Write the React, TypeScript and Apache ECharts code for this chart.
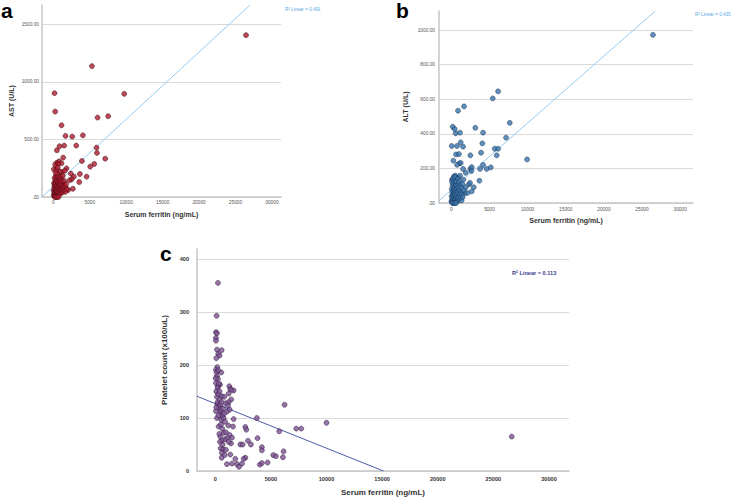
import React, { useEffect, useRef } from 'react';
import * as echarts from 'echarts';

// ---- data ----
const xTicks = [0, 5000, 10000, 15000, 20000, 25000, 30000];
const panelLetters = ['a', 'b', 'c'];
const r2Labels = ['R\u00b2 Linear = 0.491', 'R\u00b2 Linear = 0.435', 'R\u00b2 Linear = 0.113'];
const xTitle = 'Serum ferritin (ng/mL)';
const yTitles = ['AST (U/L)', 'ALT (U/L)', 'Platelet count (x100/uL)'];

const astData: number[][] = [
  [26450, 1406], [5290, 1137], [9730, 896], [160, 902], [250, 742], [1120, 623], [6070, 690], [7530, 702],
  [1670, 531], [2590, 525], [4050, 536], [3140, 447], [1490, 447], [850, 441], [480, 406], [5930, 429], [5980, 383],
  [1350, 342], [7120, 333], [760, 310], [440, 296], [250, 281], [1120, 293], [660, 287], [3920, 313], [5610, 287], [5060, 264],
  [70, 241], [1810, 249], [1210, 217], [1580, 229], [2400, 203], [3640, 200], [4560, 177], [2820, 177], [2500, 154],
  [2220, 145], [3550, 130], [2040, 61], [2680, 72], [940, 220], [990, 177], [660, 142], [1350, 119],
  [30, 60], [60, 15], [90, 120], [110, 35], [130, 90], [150, 5], [170, 165], [190, 50], [210, 110], [230, 25],
  [250, 75], [270, 140], [290, 10], [310, 95], [330, 55], [350, 180], [370, 30], [390, 125], [410, 70], [430, 15],
  [450, 150], [470, 45], [500, 100], [520, 200], [540, 60], [570, 20], [600, 130], [620, 85], [650, 40], [680, 170],
  [710, 110], [740, 65], [770, 25], [800, 145], [830, 95], [860, 50], [900, 120], [940, 75], [980, 30], [1020, 160],
  [1060, 100], [1100, 55], [1150, 135], [1200, 80], [1250, 40], [1300, 185], [1350, 95], [1420, 60], [1500, 140],
  [1580, 90], [1650, 45], [1750, 110], [1850, 70], [350, 0], [200, 0], [500, 0], [700, 0], [420, 240], [600, 255], [300, 210],
];

const altData: number[][] = [
  [26430, 973], [6130, 646], [5430, 605], [1670, 559], [880, 534], [7660, 464], [180, 441], [440, 428], [3150, 435],
  [570, 403], [1140, 407], [4160, 407], [7180, 378], [1230, 351], [4070, 345], [50, 330], [750, 330], [1540, 326],
  [5690, 314], [6130, 314], [620, 281], [1010, 283], [2500, 276], [5950, 276], [3900, 291], [270, 245], [1050, 229],
  [1230, 232], [750, 221], [4160, 220], [9930, 252], [2500, 197], [2670, 208], [3770, 197], [4640, 197], [5170, 206],
  [1540, 197], [1890, 175], [2630, 185], [3680, 129], [90, 135], [350, 154], [530, 158], [880, 146], [1140, 158],
  [1580, 135], [2320, 108], [2450, 116], [1890, 91], [2940, 91], [2670, 67], [2100, 58], [1710, 58],
  [20, 10], [40, 40], [60, 80], [80, 5], [100, 120], [120, 25], [140, 60], [160, 100], [180, 15], [200, 45],
  [220, 140], [240, 70], [260, 0], [280, 30], [300, 110], [320, 55], [340, 85], [360, 10], [380, 130], [400, 40],
  [420, 65], [440, 95], [460, 20], [480, 150], [500, 50], [520, 75], [550, 5], [580, 105], [600, 35], [620, 60],
  [650, 125], [680, 20], [700, 80], [730, 45], [760, 100], [790, 10], [820, 65], [850, 140], [880, 30], [910, 90],
  [950, 55], [990, 120], [1030, 20], [1070, 75], [1110, 45], [1150, 105], [1200, 30], [1250, 60], [1300, 90],
  [1350, 15], [1400, 50], [1450, 110], [1500, 35], [1600, 75], [300, 0], [150, 0], [450, 0], [650, 0],
];

const pltData: number[][] = [
  [26650, 65], [240, 355], [120, 293], [60, 262], [150, 260], [60, 251], [60, 246], [150, 229], [570, 228], [270, 221],
  [390, 218], [90, 213], [180, 196], [60, 191], [120, 186], [540, 186], [150, 179], [240, 174], [60, 166], [420, 163],
  [240, 160], [1260, 160], [1350, 155], [1650, 152], [1440, 153], [210, 157], [600, 141], [810, 140], [1200, 146],
  [1440, 135], [1200, 130], [960, 128], [1140, 124], [180, 126], [6230, 125], [60, 113], [450, 110], [1050, 112],
  [1290, 116], [1650, 98], [3740, 100], [540, 97], [300, 84], [1170, 86], [1590, 84], [2700, 83], [2790, 78], [630, 80],
  [750, 72], [960, 73], [1290, 68], [5750, 75], [7280, 80], [7730, 80], [10000, 91], [3800, 62], [1500, 63], [450, 65],
  [600, 57], [2940, 57], [3200, 50], [2250, 50], [2460, 50], [480, 43], [690, 41], [600, 34], [570, 25], [960, 40],
  [1410, 52], [1350, 31], [4190, 45], [4190, 39], [5210, 30], [5450, 28], [6140, 37], [6080, 26], [2700, 25], [2550, 23],
  [1800, 23], [1050, 13], [1500, 14], [1950, 13], [2130, 8], [2400, 14], [4010, 12], [4190, 15], [4700, 16],
  [30, 175], [90, 150], [150, 140], [210, 130], [270, 145], [330, 120], [390, 135], [450, 125], [510, 115], [570, 130],
  [630, 105], [690, 118], [750, 100], [330, 165], [270, 190], [390, 150], [150, 100], [90, 120], [510, 88], [870, 93],
  [780, 108], [900, 60], [360, 70], [420, 55], [660, 50], [1080, 62], [1200, 55], [300, 105], [840, 30],
];

// fit-line end points
const astFit: number[][] = [[-1560, 0], [27000, 1668]];
const altFit: number[][] = [[-1614, 13], [26730, 1111]];
const pltFit: number[][] = [[-1644, 141], [15120, 0]];

const FONT = 'Liberation Sans, Arial, Helvetica, sans-serif';

export default function App() {
  const ref = useRef<HTMLDivElement>(null);
  useEffect(() => {
    if (!ref.current) return;
    const chart = echarts.init(ref.current, undefined, { renderer: 'svg' });

    const grids = [
      { left: 42, top: 5, width: 239, height: 192 },
      { left: 439, top: 11, width: 254, height: 192 },
      { left: 197, top: 249, width: 372, height: 222 },
    ];
    const xRanges = [[-1560, 31250], [-1614, 31680], [-1644, 31800]];
    const yRanges = [[0, 1668, 500], [0, 1111, 200], [0, 419, 100]];
    const xNameGaps = [13.5, 14, 17];
    const yNameGaps = [27.5, 30.5, 20];
    const xLabelMargins = [2.5, 4, 5];
    const yLabelMargins = [3, 4, 8];
    const tickFont = [4.8, 4.8, 5.6];
    const nameFont = [7, 7, 8];

    const makeAxisLine = () => ({ show: true, onZero: false, lineStyle: { color: '#c6c6c6', width: 1.5 } });

    const xAxis = grids.map((_, i) => ({
      type: 'value',
      gridIndex: i,
      min: xRanges[i][0],
      max: xRanges[i][1],
      axisLine: makeAxisLine(),
      axisTick: { show: false },
      splitLine: { show: false },
      axisLabel: {
        customValues: xTicks,
        fontSize: tickFont[i],
        color: i === 2 ? '#333' : '#555',
        fontWeight: i === 2 ? 'bold' : 'normal',
        fontFamily: FONT,
        margin: xLabelMargins[i],
        formatter: (v: number) => String(v),
      },
      name: xTitle,
      nameLocation: 'middle',
      nameGap: xNameGaps[i],
      nameTextStyle: { fontWeight: 'bold', fontSize: nameFont[i], color: '#333', fontFamily: FONT },
    }));

    const yAxis = grids.map((_, i) => ({
      type: 'value',
      gridIndex: i,
      min: yRanges[i][0],
      max: yRanges[i][1],
      interval: yRanges[i][2],
      axisLine: makeAxisLine(),
      axisTick: { show: false },
      splitLine: { show: true, showMaxLine: false, lineStyle: { color: '#dadada', width: 1 } },
      axisLabel: {
        showMaxLabel: false,
        fontSize: tickFont[i],
        color: i === 2 ? '#333' : '#555',
        fontWeight: i === 2 ? 'bold' : 'normal',
        fontFamily: FONT,
        margin: yLabelMargins[i],
        formatter: (v: number) => (i === 2 ? String(v) : v === 0 ? '.00' : v.toFixed(2)),
      },
      name: yTitles[i],
      nameLocation: 'middle',
      nameGap: yNameGaps[i],
      nameTextStyle: { fontWeight: 'bold', fontSize: nameFont[i], color: '#333', fontFamily: FONT },
    }));

    const pointStyles = [
      { color: '#ad1a2d', borderColor: '#3b0a12', borderWidth: 0.6 },
      { color: '#3873ad', borderColor: '#17324f', borderWidth: 0.6 },
      { color: '#7d5192', borderColor: '#2b1836', borderWidth: 0.6 },
    ];
    const fitColors = ['#8cc5ee', '#8cc5ee', '#4a5cab'];
    const datas = [astData, altData, pltData];
    const fits = [astFit, altFit, pltFit];

    const series: any[] = [];
    for (let i = 0; i < 3; i++) {
      series.push({
        type: 'line',
        xAxisIndex: i,
        yAxisIndex: i,
        data: fits[i],
        showSymbol: false,
        symbol: 'none',
        clip: true,
        lineStyle: { color: fitColors[i], width: i === 2 ? 1 : 0.9 },
        z: 1,
      });
      series.push({
        type: 'scatter',
        xAxisIndex: i,
        yAxisIndex: i,
        data: datas[i],
        symbolSize: 5,
        itemStyle: pointStyles[i],
        z: 2,
      });
    }

    const letterPos = [[1, 0], [396, 0], [160, 243]];
    const r2Pos = [[285, 7], [695, 12], [512, 269.5]];
    const graphic: any[] = [];
    for (let i = 0; i < 3; i++) {
      graphic.push({
        type: 'text',
        left: letterPos[i][0],
        top: letterPos[i][1],
        style: { text: panelLetters[i], font: `bold 21px ${FONT}`, fill: '#000' },
      });
      graphic.push({
        type: 'text',
        left: r2Pos[i][0],
        top: r2Pos[i][1],
        style: {
          text: r2Labels[i],
          font: i === 2 ? `bold 5.6px ${FONT}` : `4.6px ${FONT}`,
          fill: i === 2 ? '#3a3f8f' : '#5aa9e6',
        },
      });
    }

    chart.setOption({
      animation: false,
      backgroundColor: '#ffffff',
      grid: grids,
      xAxis,
      yAxis,
      series,
      graphic,
    } as any);

    return () => chart.dispose();
  }, []);

  return (
    <div
      ref={ref}
      style={{ position: 'absolute', left: 0, top: 0, width: 740, height: 498 }}
    />
  );
}
